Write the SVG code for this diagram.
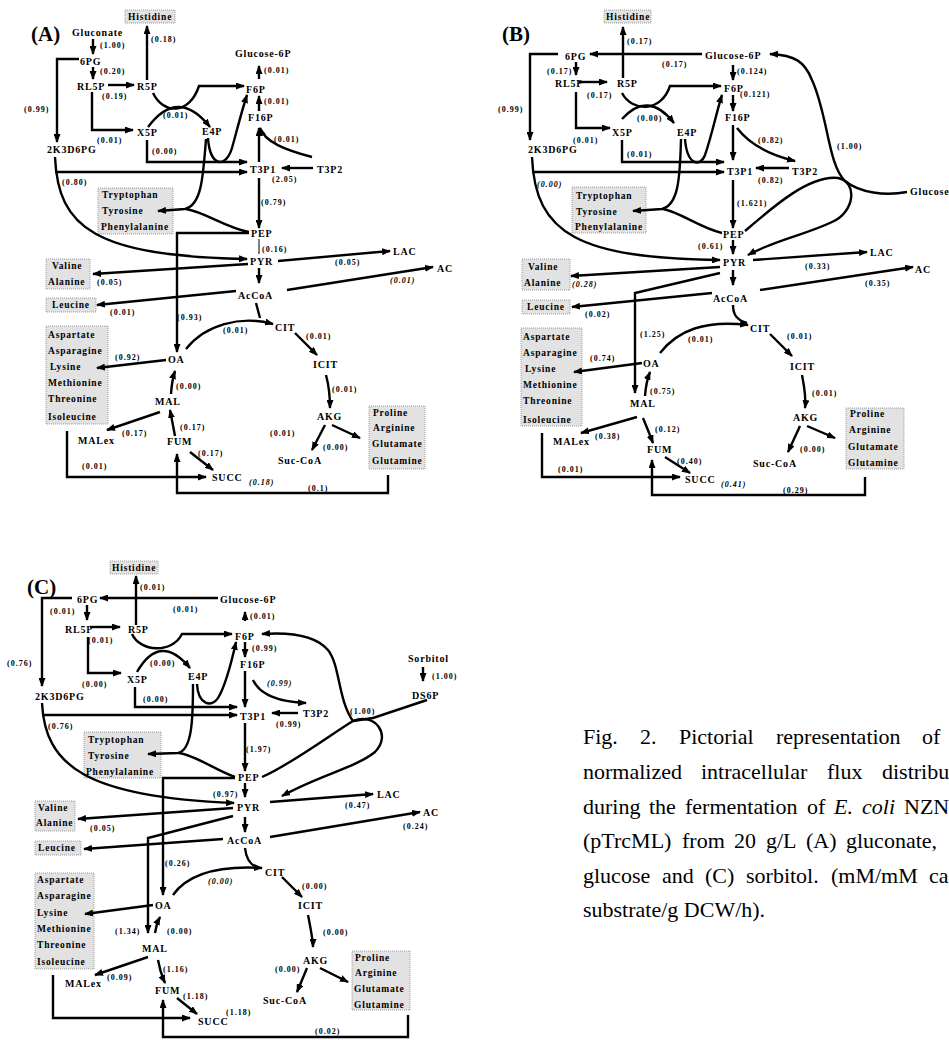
<svg xmlns="http://www.w3.org/2000/svg" width="949" height="1040" viewBox="0 0 949 1040">
<style>
.n{font-family:"Liberation Serif",serif;font-weight:bold;font-size:10px;letter-spacing:0.8px;fill:#000}
.f{font-family:"Liberation Serif",serif;font-weight:bold;font-size:8px;letter-spacing:1px;fill:#000}
.fi{font-style:italic}
.a{font-family:"Liberation Serif",serif;font-weight:bold;font-size:9.5px;letter-spacing:0.8px;fill:#000}
.p{font-family:"Liberation Serif",serif;font-weight:bold;font-size:21px;fill:#000}
.bx{fill:#e2e2e2;stroke:#888;stroke-width:.8;stroke-dasharray:1 1}
.c{fill:none;stroke:#000;stroke-width:2.4;marker-end:url(#ah)}
.l{fill:none;stroke:#000;stroke-width:2.4}
.t{fill:none;stroke:#000;stroke-width:1}
.cap{font-family:"Liberation Serif",serif;font-size:22px;fill:#000}
</style>
<defs>
<marker id="ah" viewBox="0 0 9 7" refX="8" refY="3.5" markerWidth="9" markerHeight="7" markerUnits="userSpaceOnUse" orient="auto"><path d="M0,0 L9,3.5 L0,7z"/></marker>
</defs>
<rect width="949" height="1040" fill="#fff"/>

<!-- ===== PANEL A ===== -->
<g id="panelA">
<g id="A-label"><text class="p" x="31" y="41">(A)</text></g>
<g id="A-Gluconate"><text class="n" x="72" y="36">Gluconate</text></g>
<g id="A-6PG"><text class="n" x="80" y="65">6PG</text></g>
<g id="A-RL5P"><text class="n" x="77" y="90">RL5P</text></g>
<g id="A-R5P"><text class="n" x="137" y="90">R5P</text></g>
<g id="A-X5P"><text class="n" x="137" y="136">X5P</text></g>
<g id="A-E4P"><text class="n" x="202" y="135">E4P</text></g>
<g id="A-Histidine"><rect class="bx" x="125" y="10" width="50" height="13"/><text class="a" x="128" y="20">Histidine</text></g>
<g id="A-Glucose6P"><text class="n" x="235" y="57">Glucose-6P</text></g>
<g id="A-F6P"><text class="n" x="246" y="93">F6P</text></g>
<g id="A-F16P"><text class="n" x="248" y="121">F16P</text></g>
<g id="A-T3P1"><text class="n" x="250" y="173">T3P1</text></g>
<g id="A-T3P2"><text class="n" x="317" y="173">T3P2</text></g>
<g id="A-2K3D6PG"><text class="n" x="47" y="153">2K3D6PG</text></g>
<g id="A-Aromatic"><rect class="bx" x="98" y="188" width="75" height="46"/><text class="a" x="102" y="198">Tryptophan</text><text class="a" x="102" y="214">Tyrosine</text><text class="a" x="101" y="230">Phenylalanine</text></g>
<g id="A-PEP"><text class="n" x="251" y="237">PEP</text></g>
<g id="A-PYR"><text class="n" x="250" y="265">PYR</text></g>
<g id="A-AcCoA"><text class="n" x="238" y="299">AcCoA</text></g>
<g id="A-LAC"><text class="n" x="393" y="255">LAC</text></g>
<g id="A-AC"><text class="n" x="437" y="272">AC</text></g>
<g id="A-ValAla"><rect class="bx" x="46" y="259" width="44" height="30"/><text class="a" x="52" y="269">Valine</text><text class="a" x="48" y="285">Alanine</text></g>
<g id="A-Leucine"><rect class="bx" x="46" y="298" width="50" height="14"/><text class="a" x="52" y="308">Leucine</text></g>
<g id="A-CIT"><text class="n" x="275" y="331">CIT</text></g>
<g id="A-ICIT"><text class="n" x="313" y="368">ICIT</text></g>
<g id="A-AKG"><text class="n" x="317" y="420">AKG</text></g>
<g id="A-SucCoA"><text class="n" x="278" y="464">Suc-CoA</text></g>
<g id="A-ProBox"><rect class="bx" x="369" y="406" width="56" height="63"/><text class="a" x="373" y="416">Proline</text><text class="a" x="373" y="431">Arginine</text><text class="a" x="372" y="447">Glutamate</text><text class="a" x="372" y="464">Glutamine</text></g>
<g id="A-AspBox"><rect class="bx" x="46" y="326" width="62" height="98"/><text class="a" x="48" y="338">Aspartate</text><text class="a" x="48" y="354">Asparagine</text><text class="a" x="50" y="370">Lysine</text><text class="a" x="48" y="386">Methionine</text><text class="a" x="48" y="402">Threonine</text><text class="a" x="48" y="420">Isoleucine</text></g>
<g id="A-OA"><text class="n" x="168" y="363">OA</text></g>
<g id="A-MAL"><text class="n" x="155" y="405">MAL</text></g>
<g id="A-FUM"><text class="n" x="167" y="445">FUM</text></g>
<g id="A-MALex"><text class="n" x="78" y="444">MALex</text></g>
<g id="A-SUCC"><text class="n" x="212" y="481">SUCC</text><text class="f fi" x="249" y="485">(0.18)</text></g>
</g>

<g id="A-connectors">
<path class="c" d="M93,39 V54"/>
<path class="c" d="M93,67 V79"/>
<path class="c" d="M79,59 H57 V142"/>
<path class="c" d="M108,85 H134"/>
<path class="c" d="M92,92 V130 H133"/>
<path class="c" d="M147,80 V26"/>
<path class="c" d="M153,93 C163,114 189,116 199,86 H244"/>
<path class="c" d="M148,127 Q178,87 210,127"/>
<path class="c" d="M147,140 V162 H247"/>
<path class="c" d="M55,172 H247"/>
<path class="c" d="M55,157 C58,228 95,256 247,259"/>
<path class="c" d="M208,138 C210,168 226,168 232,148 C237,130 242,110 247,95"/>
<path class="c" d="M206,139 C203,180 201,205 185,209 L158,211"/>
<path class="l" d="M249,232 C226,228 205,212 186,209"/>
<path class="c" d="M313,168 H282"/>
<path class="c" d="M312,157 C285,150 265,142 260,128"/>
<path class="c" d="M259,162 V128"/>
<path class="c" d="M259,111 V96"/>
<path class="c" d="M259,79 V66"/>
<path class="c" d="M259,178 V228"/>
<path class="t" d="M259,239 V254"/>
<path class="c" d="M249,233 H177 V352"/>
<path class="c" d="M278,261 L390,251"/>
<path class="c" d="M248,264 L93,274"/>
<path class="c" d="M259,268 V283"/>
<path class="c" d="M287,290 L433,267"/>
<path class="c" d="M236,291 L97,305"/>
<path class="l" d="M256,303 L260,318"/>
<path class="c" d="M186,349 C205,325 240,315 273,324"/>
<path class="c" d="M295,333 L317,355"/>
<path class="c" d="M326,375 C330,390 330,400 330,408"/>
<path class="c" d="M325,425 L312,450"/>
<path class="c" d="M332,425 L360,438"/>
<path class="c" d="M166,360 L97,368"/>
<path class="c" d="M171,394 Q172,380 175,371"/>
<path class="c" d="M175,436 Q172,420 170,410"/>
<path class="c" d="M160,412 L107,430"/>
<path class="c" d="M190,452 L213,470"/>
<path class="c" d="M67,431 V477 H206"/>
<path class="c" d="M388,475 V493 H177 V454"/>
<g id="A-flux">
<text class="f" x="100" y="48">(1.00)</text>
<text class="f" x="100" y="74">(0.20)</text>
<text class="f" x="102" y="99">(0.19)</text>
<text class="f" x="24" y="112">(0.99)</text>
<text class="f" x="97" y="143">(0.01)</text>
<text class="f" x="151" y="42">(0.18)</text>
<text class="f" x="163" y="118">(0.01)</text>
<text class="f" x="152" y="154">(0.00)</text>
<text class="f" x="62" y="185">(0.80)</text>
<text class="f" x="264" y="73">(0.01)</text>
<text class="f" x="264" y="104">(0.01)</text>
<text class="f" x="274" y="142">(0.01)</text>
<text class="f" x="272" y="182">(2.05)</text>
<text class="f" x="261" y="205">(0.79)</text>
<text class="f" x="262" y="252">(0.16)</text>
<text class="f" x="335" y="265">(0.05)</text>
<text class="f fi" x="390" y="283">(0.01)</text>
<text class="f" x="97" y="285">(0.05)</text>
<text class="f" x="110" y="315">(0.01)</text>
<text class="f" x="177" y="320">(0.93)</text>
<text class="f" x="223" y="333">(0.01)</text>
<text class="f" x="306" y="339">(0.01)</text>
<text class="f" x="332" y="392">(0.01)</text>
<text class="f" x="270" y="436">(0.01)</text>
<text class="f" x="323" y="450">(0.00)</text>
<text class="f" x="115" y="360">(0.92)</text>
<text class="f" x="176" y="389">(0.00)</text>
<text class="f" x="180" y="430">(0.17)</text>
<text class="f" x="122" y="436">(0.17)</text>
<text class="f" x="198" y="456">(0.17)</text>
<text class="f" x="82" y="469">(0.01)</text>
<text class="f" x="308" y="491">(0.1)</text>
</g>
</g>

<!-- ===== PANEL B ===== -->
<g id="panelB">
<g id="B-label"><text class="p" x="502" y="41">(B)</text></g>
<g id="B-Histidine"><rect class="bx" x="604" y="10" width="47" height="13"/><text class="a" x="606" y="20">Histidine</text></g>
<g id="B-Glucose6P"><text class="n" x="705" y="59">Glucose-6P</text></g>
<g id="B-6PG"><text class="n" x="565" y="60">6PG</text></g>
<g id="B-RL5P"><text class="n" x="555" y="87">RL5P</text></g>
<g id="B-R5P"><text class="n" x="617" y="87">R5P</text></g>
<g id="B-X5P"><text class="n" x="612" y="136">X5P</text></g>
<g id="B-E4P"><text class="n" x="677" y="136">E4P</text></g>
<g id="B-2K3D6PG"><text class="n" x="528" y="153">2K3D6PG</text></g>
<g id="B-F6P"><text class="n" x="724" y="92">F6P</text></g>
<g id="B-F16P"><text class="n" x="725" y="121">F16P</text></g>
<g id="B-T3P1"><text class="n" x="727" y="175">T3P1</text></g>
<g id="B-T3P2"><text class="n" x="792" y="175">T3P2</text></g>
<g id="B-Glucose"><text class="n" x="910" y="195">Glucose</text></g>
<g id="B-Aromatic"><rect class="bx" x="572" y="187" width="74" height="46"/><text class="a" x="576" y="199">Tryptophan</text><text class="a" x="576" y="215">Tyrosine</text><text class="a" x="575" y="230">Phenylalanine</text></g>
<g id="B-PEP"><text class="n" x="723" y="238">PEP</text></g>
<g id="B-PYR"><text class="n" x="723" y="266">PYR</text></g>
<g id="B-AcCoA"><text class="n" x="713" y="302">AcCoA</text></g>
<g id="B-LAC"><text class="n" x="870" y="256">LAC</text></g>
<g id="B-AC"><text class="n" x="915" y="273">AC</text></g>
<g id="B-ValAla"><rect class="bx" x="522" y="259" width="48" height="31"/><text class="a" x="528" y="270">Valine</text><text class="a" x="524" y="286">Alanine</text></g>
<g id="B-Leucine"><rect class="bx" x="522" y="300" width="48" height="14"/><text class="a" x="527" y="310">Leucine</text></g>
<g id="B-AspBox"><rect class="bx" x="521" y="328" width="61" height="98"/><text class="a" x="523" y="340">Aspartate</text><text class="a" x="523" y="356">Asparagine</text><text class="a" x="525" y="372">Lysine</text><text class="a" x="523" y="388">Methionine</text><text class="a" x="523" y="404">Threonine</text><text class="a" x="523" y="423">Isoleucine</text></g>
<g id="B-OA"><text class="n" x="643" y="367">OA</text></g>
<g id="B-MAL"><text class="n" x="630" y="407">MAL</text></g>
<g id="B-MALex"><text class="n" x="553" y="445">MALex</text></g>
<g id="B-FUM"><text class="n" x="647" y="453">FUM</text></g>
<g id="B-SUCC"><text class="n" x="685" y="483">SUCC</text><text class="f fi" x="721" y="487">(0.41)</text></g>
<g id="B-CIT"><text class="n" x="750" y="332">CIT</text></g>
<g id="B-ICIT"><text class="n" x="790" y="370">ICIT</text></g>
<g id="B-AKG"><text class="n" x="793" y="421">AKG</text></g>
<g id="B-SucCoA"><text class="n" x="753" y="467">Suc-CoA</text></g>
<g id="B-ProBox"><rect class="bx" x="846" y="408" width="58" height="61"/><text class="a" x="850" y="417">Proline</text><text class="a" x="849" y="433">Arginine</text><text class="a" x="848" y="450">Glutamate</text><text class="a" x="848" y="466">Glutamine</text></g>
</g>

<g id="B-connectors">
<path class="c" d="M702,54 H590"/>
<path class="c" d="M623,78 V27"/>
<path class="c" d="M558,54 H530 V140"/>
<path class="c" d="M576,62 V75"/>
<path class="c" d="M579,82 H607"/>
<path class="c" d="M576,92 V128 H610"/>
<path class="c" d="M622,93 C632,112 661,113 670,86 H721"/>
<path class="c" d="M622,119 Q648,90 674,123"/>
<path class="c" d="M622,140 V162 H724"/>
<path class="c" d="M532,172 H724"/>
<path class="c" d="M532,157 C535,235 580,258 720,260"/>
<path class="c" d="M685,139 C687,165 700,168 705,155 C712,135 717,110 722,95"/>
<path class="c" d="M681,139 C680,180 678,205 662,209 L633,211"/>
<path class="l" d="M722,233 C700,228 680,212 663,209"/>
<path class="c" d="M733,65 V80"/>
<path class="c" d="M733,95 V111"/>
<path class="c" d="M733,125 V160"/>
<path class="c" d="M737,128 C750,145 770,155 795,161"/>
<path class="c" d="M789,168 H756"/>
<path class="c" d="M733,180 V228"/>
<path class="c" d="M907,192 C885,196 860,193 845,181 C828,165 828,115 812,80 C805,62 795,55 770,54"/>
<path class="c" d="M745,231 C775,205 810,175 838,178 C858,182 855,212 832,222 C805,235 775,240 748,255"/>
<path class="c" d="M733,240 V254"/>
<path class="c" d="M753,260 L867,252"/>
<path class="c" d="M733,270 V285"/>
<path class="c" d="M760,290 L913,267"/>
<path class="c" d="M720,267 L571,276"/>
<path class="c" d="M720,273 L635,293 V393"/>
<path class="c" d="M712,293 L572,307"/>
<path class="l" d="M733,305 C733,315 737,320 747,323"/>
<path class="c" d="M660,353 C678,330 705,320 748,325"/>
<path class="c" d="M770,334 L792,356"/>
<path class="c" d="M802,375 C805,390 806,400 805,408"/>
<path class="c" d="M800,426 L788,452"/>
<path class="c" d="M807,426 L835,438"/>
<path class="c" d="M642,363 L574,372"/>
<path class="c" d="M645,396 Q646,382 650,372"/>
<path class="c" d="M637,417 L581,433"/>
<path class="c" d="M643,418 Q648,430 653,443"/>
<path class="c" d="M665,457 L690,473"/>
<path class="c" d="M542,433 V477 H680"/>
<path class="c" d="M865,477 V495 H652 V460"/>
<g id="B-flux">
<text class="f" x="627" y="44">(0.17)</text>
<text class="f" x="662" y="67">(0.17)</text>
<text class="f" x="547" y="74">(0.17)</text>
<text class="f" x="498" y="112">(0.99)</text>
<text class="f" x="587" y="98">(0.17)</text>
<text class="f" x="637" y="121">(0.00)</text>
<text class="f" x="573" y="143">(0.01)</text>
<text class="f" x="627" y="157">(0.01)</text>
<text class="f fi" x="537" y="187">(0.00)</text>
<text class="f" x="737" y="74">(0.124)</text>
<text class="f" x="740" y="97">(0.121)</text>
<text class="f" x="758" y="143">(0.82)</text>
<text class="f" x="758" y="183">(0.82)</text>
<text class="f" x="737" y="206">(1.621)</text>
<text class="f" x="837" y="149">(1.00)</text>
<text class="f" x="698" y="249">(0.61)</text>
<text class="f" x="805" y="269">(0.33)</text>
<text class="f" x="865" y="286">(0.35)</text>
<text class="f fi" x="572" y="287">(0.28)</text>
<text class="f" x="585" y="317">(0.02)</text>
<text class="f" x="640" y="337">(1.25)</text>
<text class="f" x="688" y="342">(0.01)</text>
<text class="f" x="787" y="339">(0.01)</text>
<text class="f" x="812" y="396">(0.01)</text>
<text class="f" x="800" y="452">(0.00)</text>
<text class="f" x="590" y="361">(0.74)</text>
<text class="f" x="650" y="394">(0.75)</text>
<text class="f" x="595" y="439">(0.38)</text>
<text class="f" x="655" y="432">(0.12)</text>
<text class="f" x="677" y="464">(0.40)</text>
<text class="f" x="558" y="472">(0.01)</text>
<text class="f" x="783" y="493">(0.29)</text>
</g>
</g>

<!-- ===== PANEL C ===== -->
<g id="panelC">
<g id="C-label"><text class="p" x="27" y="594">(C)</text></g>
<g id="C-Histidine"><rect class="bx" x="110" y="561" width="48" height="13"/><text class="a" x="112" y="571">Histidine</text></g>
<g id="C-6PG"><text class="n" x="77" y="603">6PG</text></g>
<g id="C-Glucose6P"><text class="n" x="220" y="603">Glucose-6P</text></g>
<g id="C-RL5P"><text class="n" x="65" y="633">RL5P</text></g>
<g id="C-R5P"><text class="n" x="128" y="633">R5P</text></g>
<g id="C-X5P"><text class="n" x="127" y="683">X5P</text></g>
<g id="C-E4P"><text class="n" x="188" y="680">E4P</text></g>
<g id="C-F6P"><text class="n" x="235" y="640">F6P</text></g>
<g id="C-F16P"><text class="n" x="240" y="668">F16P</text></g>
<g id="C-T3P1"><text class="n" x="240" y="720">T3P1</text></g>
<g id="C-T3P2"><text class="n" x="303" y="717">T3P2</text></g>
<g id="C-2K3D6PG"><text class="n" x="35" y="700">2K3D6PG</text></g>
<g id="C-Sorbitol"><text class="n" x="408" y="662">Sorbitol</text></g>
<g id="C-DS6P"><text class="n" x="412" y="699">DS6P</text></g>
<g id="C-Aromatic"><rect class="bx" x="84" y="732" width="77" height="46"/><text class="a" x="88" y="743">Tryptophan</text><text class="a" x="88" y="759">Tyrosine</text><text class="a" x="86" y="775">Phenylalanine</text></g>
<g id="C-PEP"><text class="n" x="238" y="781">PEP</text></g>
<g id="C-PYR"><text class="n" x="237" y="811">PYR</text></g>
<g id="C-AcCoA"><text class="n" x="227" y="844">AcCoA</text></g>
<g id="C-LAC"><text class="n" x="377" y="798">LAC</text></g>
<g id="C-AC"><text class="n" x="423" y="816">AC</text></g>
<g id="C-ValAla"><rect class="bx" x="35" y="801" width="40" height="30"/><text class="a" x="38" y="811">Valine</text><text class="a" x="36" y="826">Alanine</text></g>
<g id="C-Leucine"><rect class="bx" x="35" y="841" width="46" height="14"/><text class="a" x="38" y="851">Leucine</text></g>
<g id="C-CIT"><text class="n" x="265" y="876">CIT</text></g>
<g id="C-ICIT"><text class="n" x="298" y="909">ICIT</text></g>
<g id="C-AKG"><text class="n" x="303" y="964">AKG</text></g>
<g id="C-SucCoA"><text class="n" x="263" y="1004">Suc-CoA</text></g>
<g id="C-ProBox"><rect class="bx" x="352" y="951" width="58" height="59"/><text class="a" x="355" y="961">Proline</text><text class="a" x="355" y="976">Arginine</text><text class="a" x="354" y="992">Glutamate</text><text class="a" x="354" y="1008">Glutamine</text></g>
<g id="C-AspBox"><rect class="bx" x="35" y="873" width="59" height="96"/><text class="a" x="37" y="883">Aspartate</text><text class="a" x="37" y="899">Asparagine</text><text class="a" x="37" y="916">Lysine</text><text class="a" x="37" y="932">Methionine</text><text class="a" x="37" y="948">Threonine</text><text class="a" x="37" y="965">Isoleucine</text></g>
<g id="C-OA"><text class="n" x="155" y="909">OA</text></g>
<g id="C-MAL"><text class="n" x="142" y="952">MAL</text></g>
<g id="C-MALex"><text class="n" x="65" y="987">MALex</text></g>
<g id="C-FUM"><text class="n" x="155" y="994">FUM</text></g>
<g id="C-SUCC"><text class="n" x="198" y="1025">SUCC</text></g>
</g>

<g id="C-connectors">
<path class="c" d="M218,598 H100"/>
<path class="c" d="M136,625 V576"/>
<path class="c" d="M72,598 H42 V686"/>
<path class="c" d="M87,605 V620"/>
<path class="c" d="M90,627 H120"/>
<path class="c" d="M88,637 V673 H121"/>
<path class="c" d="M132,634 C140,652 172,654 182,634 H232"/>
<path class="c" d="M137,672 Q160,632 190,668"/>
<path class="c" d="M135,687 V707 H237"/>
<path class="c" d="M42,715 H237"/>
<path class="c" d="M42,703 C45,765 85,797 234,803"/>
<path class="c" d="M197,684 C198,705 212,708 218,698 C226,685 232,660 236,642"/>
<path class="c" d="M193,684 C193,720 192,750 178,753 L148,754"/>
<path class="l" d="M235,777 C215,770 195,755 179,753"/>
<path class="c" d="M245,621 V612"/>
<path class="c" d="M245,642 V657"/>
<path class="c" d="M245,671 V707"/>
<path class="c" d="M253,680 C260,695 280,702 306,703"/>
<path class="c" d="M298,713 H272"/>
<path class="c" d="M245,723 V771"/>
<path class="c" d="M423,667 V681"/>
<path class="l" d="M427,700 L373,718 L353,721"/>
<path class="c" d="M353,721 C338,700 340,665 328,650 C315,635 290,632 262,634"/>
<path class="l" d="M262,777 C290,765 330,735 353,721"/>
<path class="c" d="M353,721 C375,712 392,735 375,752 C355,768 320,775 282,796"/>
<path class="c" d="M245,783 V797"/>
<path class="c" d="M235,778 H163 V895"/>
<path class="c" d="M270,802 L373,794"/>
<path class="c" d="M233,808 L78,819"/>
<path class="c" d="M233,816 L148,838 V933"/>
<path class="c" d="M245,817 V832"/>
<path class="c" d="M270,837 L420,812"/>
<path class="c" d="M223,839 L84,849"/>
<path class="l" d="M245,848 C246,858 250,865 258,868"/>
<path class="c" d="M173,895 C185,878 210,865 262,868"/>
<path class="c" d="M282,877 L302,897"/>
<path class="c" d="M308,915 C311,930 313,940 313,947"/>
<path class="c" d="M307,968 L297,992"/>
<path class="c" d="M320,968 L348,982"/>
<path class="c" d="M153,905 L85,914"/>
<path class="c" d="M155,933 Q156,925 160,917"/>
<path class="c" d="M148,957 L95,975"/>
<path class="c" d="M158,960 Q160,972 165,983"/>
<path class="c" d="M177,998 L197,1014"/>
<path class="c" d="M53,975 V1018 H190"/>
<path class="c" d="M408,1015 V1037 H163 V1000"/>
<g id="C-flux">
<text class="f" x="140" y="590">(0.01)</text>
<text class="f" x="173" y="612">(0.01)</text>
<text class="f" x="50" y="614">(0.01)</text>
<text class="f" x="7" y="666">(0.76)</text>
<text class="f" x="88" y="643">(0.01)</text>
<text class="f" x="150" y="666">(0.00)</text>
<text class="f" x="82" y="687">(0.00)</text>
<text class="f" x="143" y="702">(0.00)</text>
<text class="f" x="48" y="729">(0.76)</text>
<text class="f" x="250" y="619">(0.01)</text>
<text class="f" x="252" y="651">(0.99)</text>
<text class="f fi" x="267" y="686">(0.99)</text>
<text class="f" x="276" y="727">(0.99)</text>
<text class="f" x="246" y="752">(1.97)</text>
<text class="f" x="432" y="679">(1.00)</text>
<text class="f" x="350" y="714">(1.00)</text>
<text class="f" x="213" y="797">(0.97)</text>
<text class="f" x="345" y="808">(0.47)</text>
<text class="f" x="403" y="829">(0.24)</text>
<text class="f" x="90" y="831">(0.05)</text>
<text class="f" x="165" y="866">(0.26)</text>
<text class="f fi" x="208" y="884">(0.00)</text>
<text class="f" x="302" y="889">(0.00)</text>
<text class="f" x="323" y="935">(0.00)</text>
<text class="f" x="275" y="972">(0.00)</text>
<text class="f" x="115" y="934">(1.34)</text>
<text class="f" x="167" y="934">(0.00)</text>
<text class="f" x="107" y="980">(0.09)</text>
<text class="f" x="163" y="972">(1.16)</text>
<text class="f" x="183" y="999">(1.18)</text>
<text class="f" x="226" y="1015">(1.18)</text>
<text class="f" x="315" y="1034">(0.02)</text>
</g>
</g>

<!-- ===== CAPTION ===== -->
<g id="caption">
<text class="cap" y="744"><tspan x="583">Fig.</tspan><tspan x="640">2.</tspan><tspan x="679">Pictorial</tspan><tspan x="776">representation</tspan><tspan x="922">of</tspan></text>
<text class="cap" y="779"><tspan x="583">normalized</tspan><tspan x="701">intracellular</tspan><tspan x="827">flux</tspan><tspan x="882">distribu</tspan></text>
<text class="cap" y="814"><tspan x="583">during</tspan><tspan x="649">the</tspan><tspan x="685">fermentation</tspan><tspan x="807">of</tspan><tspan x="834" font-style="italic">E.</tspan><tspan x="862" font-style="italic">coli</tspan><tspan x="904">NZN</tspan></text>
<text class="cap" y="848"><tspan x="583">(pTrcML)</tspan><tspan x="682">from</tspan><tspan x="734">20</tspan><tspan x="766">g/L</tspan><tspan x="806">(A)</tspan><tspan x="846">gluconate,</tspan></text>
<text class="cap" y="883"><tspan x="583">glucose</tspan><tspan x="662">and</tspan><tspan x="705">(C)</tspan><tspan x="746">sorbitol.</tspan><tspan x="831">(mM/mM</tspan><tspan x="929">ca</tspan></text>
<text class="cap" x="583" y="917">substrate/g DCW/h).</text>
</g>
</svg>
